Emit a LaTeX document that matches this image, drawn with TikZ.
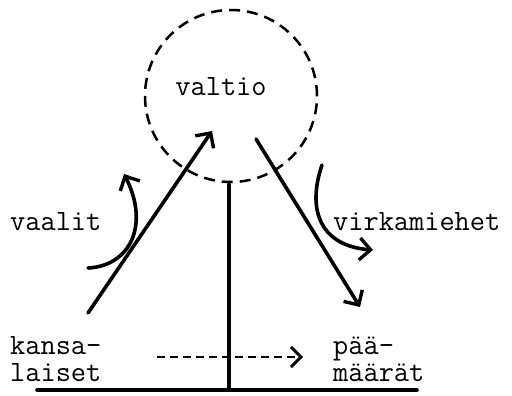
\documentclass[tikz,border=0pt]{standalone}
\usepackage{fontspec}
\usetikzlibrary{arrows.meta}

\begin{document}
\begin{tikzpicture}[x=1pt,y=-1pt]
        \tikzstyle{every node}=[font=\fontsize{29.5}{27}\selectfont\ttfamily, inner sep=0pt]
        \tikzstyle{pen}=[line width=3.6pt, line cap=round]
        \tikzstyle{barb}=[-{Straight Barb[length=11pt,width=22pt,line width=3.4pt]}]
        \useasboundingbox (0,0) rectangle (512,396);
        % state
        \node[circle, draw, line width=2.5pt, dash pattern=on 11pt off 7pt, minimum size=172pt] (valtio) at (231,96) {};
        \node (valtiotext) at (221,87) {valtio};
        % labels
        \node[anchor=west, align=left] (kansalaiset) at (10,359) {kansa-\\laiset};
        \node[anchor=west, align=left] (paamaarat) at (333,359) {pää-\\määrät};
        \node[anchor=west] (vaalit) at (10,222) {vaalit};
        \node[anchor=west] (virkamiehet) at (333,222) {virkamiehet};
        % ends of the lines
        \coordinate (up) at (88,313);
        \coordinate (uptip) at (212,131);
        \coordinate (down) at (256,139);
        \coordinate (downtip) at (360,307);
        \coordinate (groundL) at (37,390);
        \coordinate (groundR) at (417,390);
        \coordinate (groundM) at (229,390);
        \coordinate (dashL) at (157,357);
        \coordinate (dashR) at (303,357);
        \draw[pen, barb] (up) -- (uptip);
        \draw[pen, barb] (down) -- (downtip);
        \draw[pen] (groundL) -- (groundR);
        \draw[pen] (valtio.south) ++(-2,1) -- (groundM);
        \draw[line width=2.8pt, dash pattern=on 8pt off 5pt, -{Straight Barb[length=10pt,width=20pt,line width=3pt]}] (dashL) -- (dashR);
        % curved arrows
        \draw[pen, barb] (88,268) .. controls (130,266) and (150,225) .. (124,174);
        \draw[pen, barb] (322,165) .. controls (306,212) and (322,246) .. (373,250);
\end{tikzpicture}
\end{document}
